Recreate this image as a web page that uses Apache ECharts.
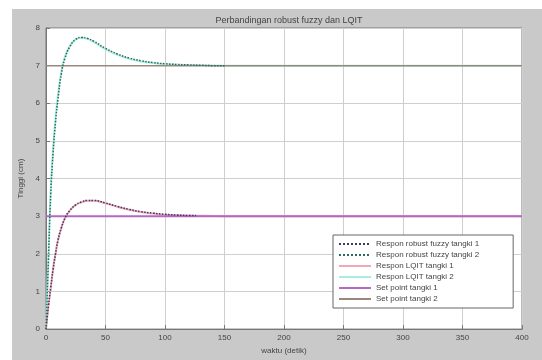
<!DOCTYPE html>
<html>
<head>
<meta charset="utf-8">
<script src="https://cdn.jsdelivr.net/npm/echarts@6/dist/echarts.min.js"></script>
<style>
html,body{margin:0;padding:0;background:#fff;}
#chart{width:542px;height:360px;}
</style>
</head>
<body>
<div id="chart"></div>
<script>
// waktu (detik) untuk tiap kurva
const tFuzzy2 = [0,2,4,6,8,10,13,16,20,25,30,35,40,50,60,70,80,90,100,110,120,130,140,150]
const fuzzy2  = [0,1.8,3.6,4.7,5.5,6.1,6.8,7.2,7.5,7.7,7.75,7.72,7.65,7.46,7.31,7.2,7.13,7.08,7.05,7.03,7.02,7.01,7.0,7.0]
const tFuzzy1 = [0,2,4,6,8,10,13,16,20,25,30,35,40,50,60,70,80,90,100,110,120,126]
const fuzzy1  = [0,0.6,1.1,1.6,2.0,2.35,2.7,2.95,3.15,3.3,3.38,3.42,3.42,3.35,3.26,3.18,3.12,3.08,3.05,3.03,3.02,3.02]
const tLqit   = [0,2,4,6,8,10,13,16,20,25,30,35,40,50,60,70,80,90,100,120,150,200,250,300,350,400]
const lqit2   = [0,1.9,3.7,4.8,5.6,6.2,6.85,7.25,7.52,7.7,7.74,7.71,7.63,7.44,7.29,7.18,7.11,7.07,7.04,7.02,7.0,7.0,7.0,7.0,7.0,7.0]
const lqit1   = [0,0.6,1.1,1.6,2.0,2.35,2.7,2.95,3.15,3.3,3.37,3.41,3.41,3.34,3.25,3.17,3.11,3.07,3.04,3.02,3.0,3.0,3.0,3.0,3.0,3.0]
const tSet    = [0,400]
const set1    = [3,3]
const set2    = [7,7]
const legendNames = ['Respon robust fuzzy tangki 1','Respon robust fuzzy tangki 2','Respon LQIT tangki 1','Respon LQIT tangki 2','Set point tangki 1','Set point tangki 2']

const pairs = (t,v) => t.map((x,i)=>[x,v[i]])

const chartInstance = echarts.init(document.getElementById('chart'))
const fontFam = 'Liberation Sans, DejaVu Sans, sans-serif'

// satu warna untuk garis dan ikon legenda
const mkLine = (name,t,v,color,width,type,z,smooth) => ({
    name:name,type:'line',smooth:smooth,symbol:'none',z:z,
    itemStyle:{color:color},
    lineStyle:{color:color,width:width,type:type},
    data:pairs(t,v)
})

const option = {
    animation:false,
    backgroundColor:'#fff',
    graphic:[{
        type:'rect',
        z:-10,
        shape:{x:12,y:9,width:530,height:351},
        style:{fill:'#c9c9c9'}
    }],
    title:{
        text:'Perbandingan robust fuzzy dan LQIT',
        left:284,
        top:11,
        textAlign:'center',
        textStyle:{fontSize:9,fontWeight:'normal',color:'#444',fontFamily:fontFam}
    },
    grid:{
        left:46,right:20,top:28,bottom:28,
        show:true,
        backgroundColor:'#fff',
        borderColor:'#777',
        borderWidth:1
    },
    legend:{
        data:legendNames,
        orient:'vertical',
        left:333,
        top:235,
        width:175,
        backgroundColor:'#fff',
        borderColor:'#666',
        borderWidth:1,
        padding:[5,34,5,5],
        itemGap:3,
        itemWidth:32,
        itemHeight:10,
        itemStyle:{opacity:0},
        textStyle:{fontSize:8,color:'#444',fontFamily:fontFam}
    },
    xAxis:{
        type:'value',
        min:0,max:400,interval:50,
        name:'waktu (detik)',
        nameLocation:'middle',
        nameGap:16,
        nameTextStyle:{fontSize:8,color:'#444',fontFamily:fontFam},
        axisLine:{onZero:false,lineStyle:{color:'#777'}},
        axisTick:{inside:true,length:4,lineStyle:{color:'#777'}},
        axisLabel:{fontSize:8,color:'#444',margin:5,fontFamily:fontFam},
        splitLine:{lineStyle:{color:'#cfcfcf',width:1}}
    },
    yAxis:{
        type:'value',
        min:0,max:8,interval:1,
        name:'Tinggi (cm)',
        nameLocation:'middle',
        nameGap:18,
        nameTextStyle:{fontSize:8,color:'#444',fontFamily:fontFam},
        axisLine:{lineStyle:{color:'#777'}},
        axisTick:{inside:true,length:4,lineStyle:{color:'#777'}},
        axisLabel:{fontSize:8,color:'#444',margin:6,fontFamily:fontFam},
        splitLine:{lineStyle:{color:'#cfcfcf',width:1}}
    },
    series:[
        mkLine('Respon LQIT tangki 2',tLqit,lqit2,'#a8eee0',2,'solid',2,true),
        mkLine('Respon LQIT tangki 1',tLqit,lqit1,'#f0a8b8',2,'solid',2,true),
        mkLine('Set point tangki 1',tSet,set1,'#b468c4',2,'solid',3,false),
        mkLine('Set point tangki 2',tSet,set2,'#9a8880',1.5,'solid',3,false),
        mkLine('Respon robust fuzzy tangki 1',tFuzzy1,fuzzy1,'#3c3a66',1.5,'dotted',4,true),
        mkLine('Respon robust fuzzy tangki 2',tFuzzy2,fuzzy2,'#2f6a5c',1.5,'dotted',4,true)
    ]
}
chartInstance.setOption(option)
</script>
</body>
</html>
